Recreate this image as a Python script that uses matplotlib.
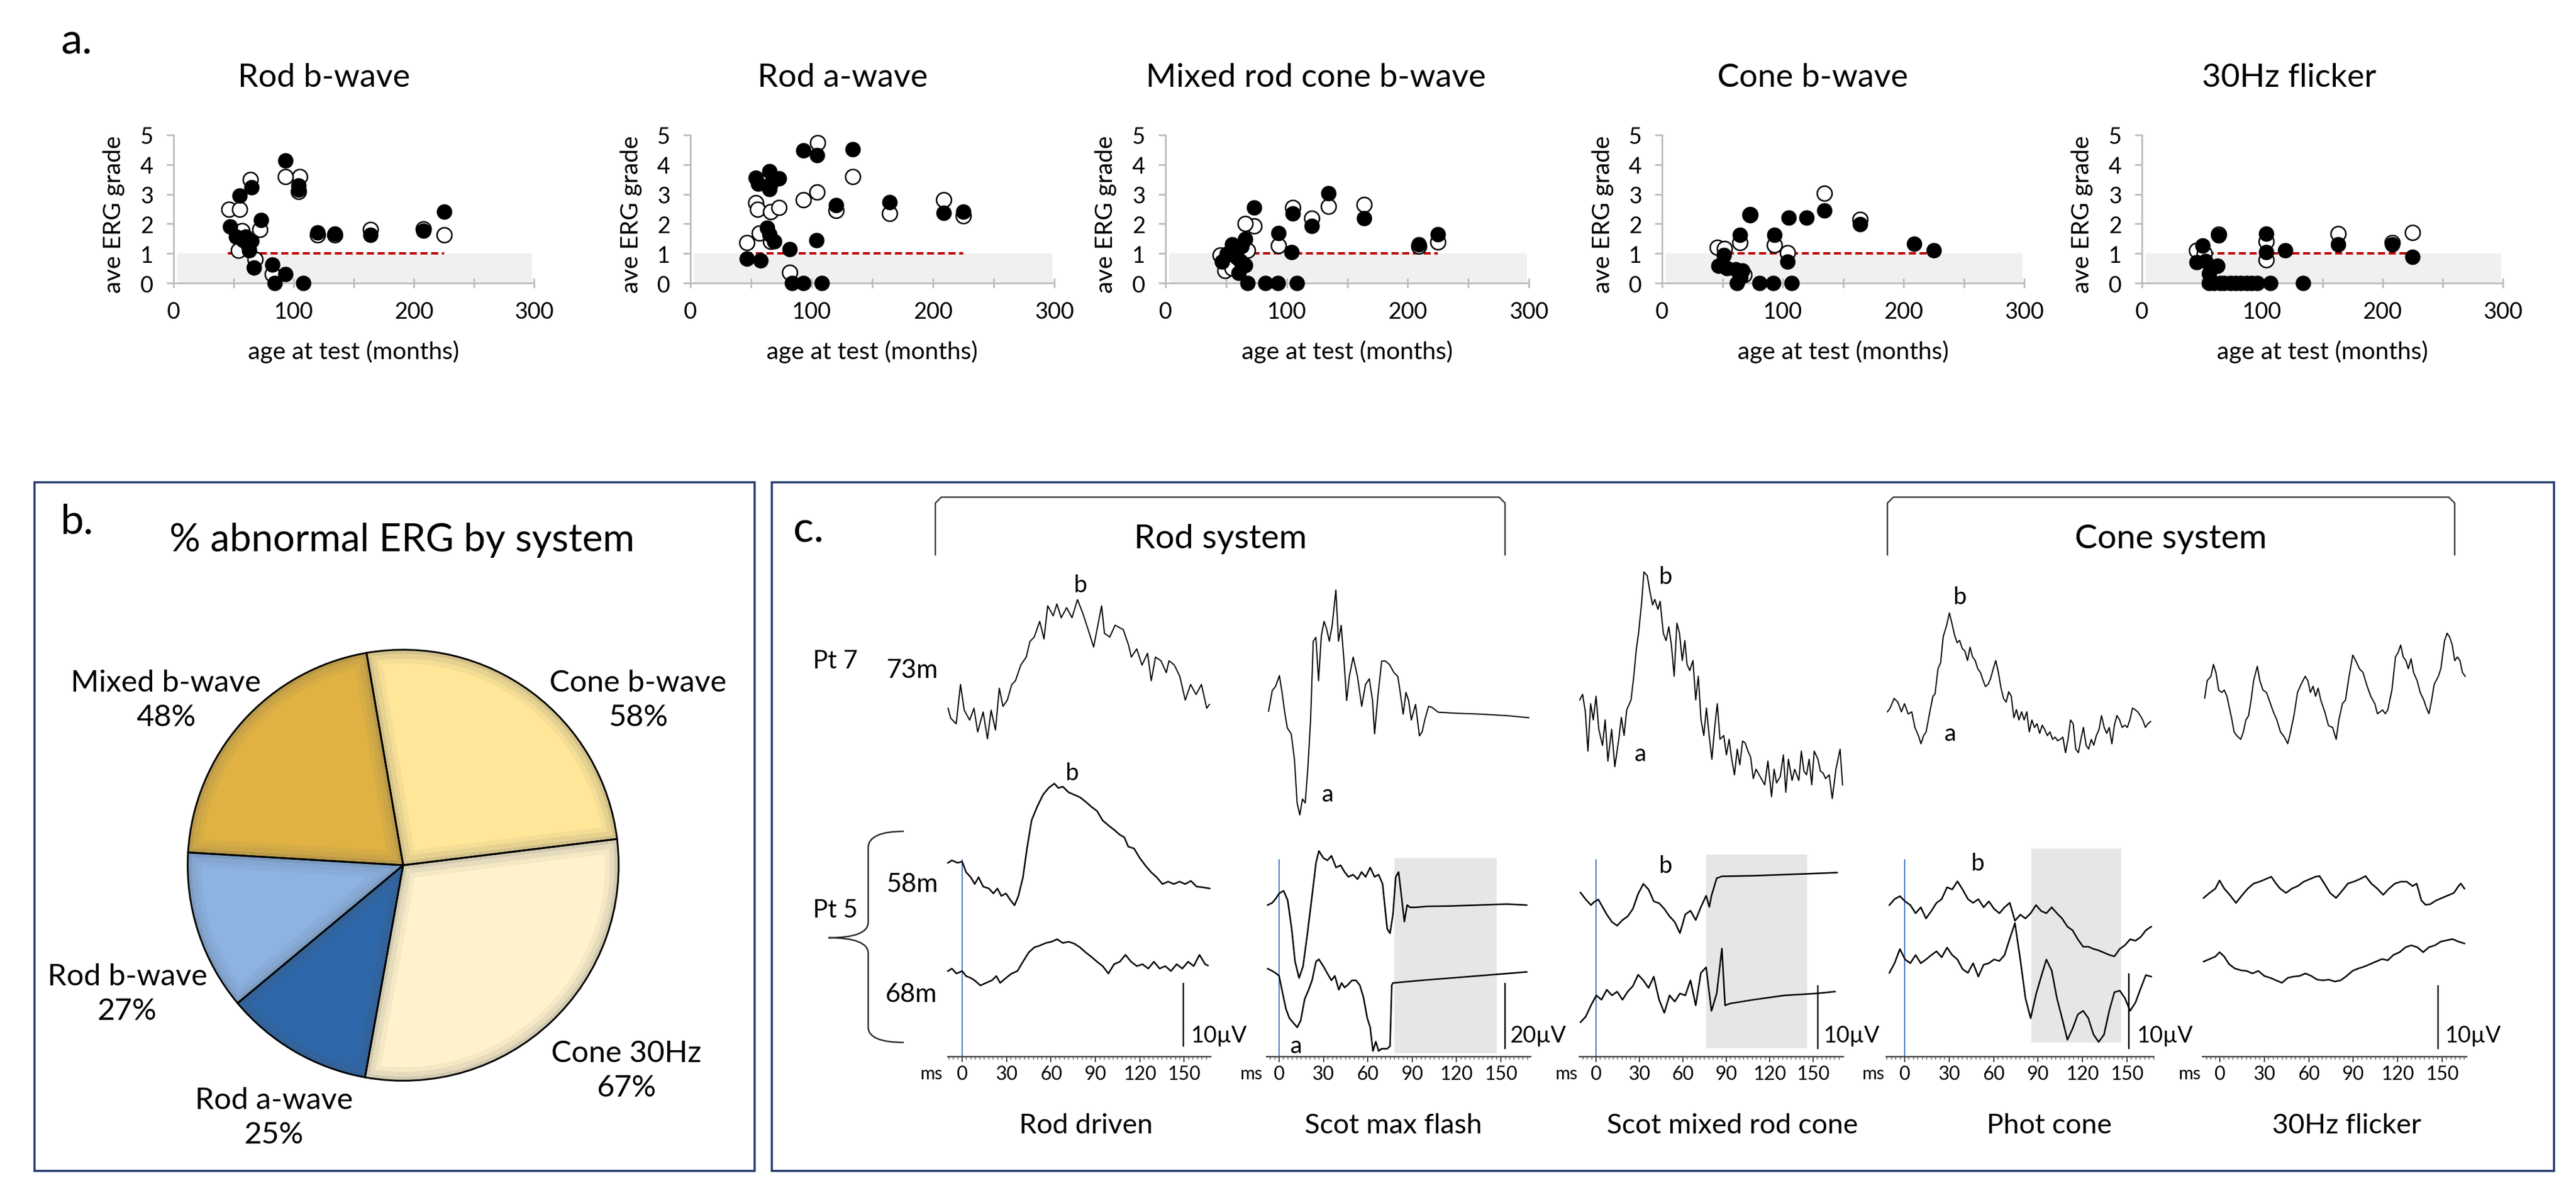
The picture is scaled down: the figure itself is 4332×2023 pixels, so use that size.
import numpy as np
import matplotlib
matplotlib.use('Agg')
import matplotlib.pyplot as plt
from matplotlib.patches import Rectangle, PathPatch, Wedge
from matplotlib.path import Path
from matplotlib.ticker import MultipleLocator

plt.rcParams['font.family'] = ['Lato', 'DejaVu Sans']

# ---------------- panel a: ave ERG grade vs age at test ----------------
SCATTER_TITLES = ['Rod b-wave', 'Rod a-wave', 'Mixed rod cone b-wave', 'Cone b-wave', '30Hz flicker']

ROD_B_FILLED = [(93, 4.13), (104, 3.3), (104, 3.16), (65, 3.23), (55, 2.95), (73, 2.12), (47, 1.9),
                (52, 1.56), (60, 1.56), (65, 1.42), (62, 1.28), (58, 1.45), (63, 1.1), (67, 0.52),
                (82, 0.62), (84, 0), (93, 0.31), (108, 0), (120, 1.7), (134, 1.67), (164, 1.63),
                (208, 1.77), (225, 2.4)]
ROD_B_OPEN = [(105, 3.6), (93, 3.6), (64, 3.5), (46, 2.5), (55, 2.5), (72, 1.8), (57, 1.77), (54, 1.1),
              (68, 0.8), (82, 0.3), (120, 1.63), (134, 1.63), (164, 1.8), (208, 1.82), (225, 1.63),
              (104, 3.1)]

ROD_A_FILLED = [(93, 4.48), (104.5, 4.32), (134, 4.51), (54, 3.56), (56, 3.35), (65, 3.78), (66, 3.35),
                (73, 3.53), (65, 3.17), (120, 2.64), (164, 2.73), (209, 2.37), (225, 2.41), (63, 1.87),
                (65, 1.65), (69, 1.4), (104, 1.44), (82, 1.15), (46.5, 0.83), (58, 0.76), (84, 0),
                (93, 0), (108.5, 0)]
ROD_A_OPEN = [(105, 4.73), (134, 3.6), (104.5, 3.07), (93, 2.81), (54, 2.71), (55.5, 2.48), (66, 2.41),
              (73, 2.55), (120, 2.45), (164, 2.34), (209, 2.82), (225, 2.27), (57, 1.69), (66, 1.4),
              (46.5, 1.37), (82, 0.36)]

MIXED_FILLED = [(134.6, 3.04), (164, 2.19), (73, 2.56), (105, 2.34), (120.6, 1.93), (93.5, 1.68),
                (104, 1.05), (209, 1.31), (225, 1.64), (65.6, 1.49), (63, 1.24), (55, 1.31), (50.7, 0.98),
                (46.5, 0.72), (59, 0.87), (66, 0.61), (60.5, 0.35), (56, 1.0), (62, 0.75), (67.6, 0),
                (82.5, 0), (93, 0), (108.5, 0)]
MIXED_OPEN = [(134.6, 2.6), (164, 2.65), (73, 1.93), (65.6, 2.0), (105, 2.56), (120.6, 2.19), (93.5, 1.27),
              (209, 1.24), (225, 1.38), (49, 0.43), (55, 0.5), (45, 0.94), (68, 1.1)]

CONE_B_FILLED = [(134.6, 2.44), (73, 2.29), (105, 2.21), (119.5, 2.21), (164, 1.99), (64.6, 1.62),
                 (93, 1.62), (209, 1.32), (225, 1.1), (104, 0.73), (51, 0.95), (46.7, 0.58), (53.8, 0.5),
                 (61, 0.47), (66.6, 0.43), (65, 0.2), (62.3, 0), (80.7, 0), (92, 0), (107.6, 0)]
CONE_B_OPEN = [(134.6, 3.03), (164, 2.14), (64.6, 1.36), (93, 1.29), (46, 1.21), (51.6, 1.17), (104, 1.03),
               (68, 0.28), (73, 2.3)]

FLICKER_FILLED = [(225, 0.89), (208, 1.3), (163, 1.3), (119, 1.11), (103.5, 1.67), (103.5, 1.04), (64, 1.6),
                  (50.6, 1.26), (45.6, 0.7), (53, 0.74), (63, 0.59), (56, 0.33), (56, 0), (60, 0), (65, 0),
                  (68, 0), (73.5, 0), (78, 0), (82, 0), (87, 0), (91, 0), (96, 0), (107, 0), (134, 0)]
FLICKER_OPEN = [(225, 1.7), (208, 1.37), (163, 1.67), (103.5, 1.41), (103.5, 0.78), (45.6, 1.11), (64, 1.65),
                (52, 1.0)]

AGE_TICKS = [0, 100, 200, 300]
AGE_MINOR = [50, 150, 250]
GRADE_TICKS = [0, 1, 2, 3, 4, 5]
NORMAL_LIMIT = 1
LIMIT_AGES = [45, 225]

# ---------------- panel b: % abnormal ERG by system ----------------
PIE_LABELS = ['Cone b-wave', 'Mixed b-wave', 'Rod b-wave', 'Rod a-wave', 'Cone 30Hz']
PIE_PCT = [58, 48, 27, 25, 67]
PIE_COLORS = ['#FFE699', '#DFB243', '#8DB3E2', '#2E68AA', '#FFF2CC']

# ---------------- panel c: ERG traces, (ms, microvolt) ----------------
ROD_DRIVEN_73 = [(-9.5, 0), (-7.7, -1.6), (-4.0, -2.5), (-1.1, 3.8), (1.4, -0.3), (5.1, -1.9), (8.0, 0),
                 (10.5, -3.8), (14.2, -0.6), (17.1, -4.9), (19.6, -0.3), (22.5, -3.5), (25.1, 3.2),
                 (27.6, 0.3), (30.5, 1.3), (33.5, 3.8), (36.0, 4.4), (39.6, 6.9), (43.3, 8.2), (45.8, 10.7),
                 (48.7, 11.4), (52.4, 13.9), (55.3, 11.1), (57.8, 16.4), (61.5, 14.8), (64.0, 16.7),
                 (66.9, 14.5), (70.6, 16.1), (74.2, 14.5), (77.9, 17.4), (81.5, 15.2), (85.1, 12.6),
                 (88.8, 9.8), (94.2, 16.4), (96.1, 12.0), (99.7, 11.4), (103.3, 13.3), (108.8, 12.6),
                 (112.4, 10.1), (114.3, 8.2), (117.9, 9.5), (121.5, 6.9), (125.2, 8.8), (127.7, 4.4),
                 (130.6, 8.2), (134.3, 7.6), (137.9, 5.7), (139.7, 7.6), (143.4, 6.9), (147.0, 5.1),
                 (150.7, 1.3), (154.3, 3.8), (158.0, 2.2), (161.6, 3.8), (165.2, 0), (167.0, 0.6)]
ROD_DRIVEN_58 = [(-9.6, 0), (-6.9, 0.4), (-3.1, 0), (0, 0.2), (2.7, -1.5), (5.8, -2.3), (8.5, -3.4),
                 (11.1, -2.3), (14.2, -3.8), (18.1, -4.1), (21.1, -4.9), (23.8, -4.1), (26.5, -5.3),
                 (29.6, -4.9), (32.7, -6.0), (35.4, -6.8), (38.0, -5.3), (41.1, -2.3), (43.8, 2.3),
                 (46.9, 6.8), (50.7, 9.0), (54.6, 10.9), (58.4, 12.0), (62.3, 12.7), (64.9, 12.0),
                 (68.0, 12.2), (71.9, 11.3), (75.7, 10.9), (79.6, 10.5), (83.4, 9.8), (87.2, 9.0),
                 (91.1, 8.3), (94.9, 6.8), (98.8, 6.0), (102.6, 5.3), (106.5, 4.5), (109.5, 4.1),
                 (112.2, 2.6), (116.1, 2.3), (119.9, 0.8), (123.7, -0.4), (127.6, -1.5), (131.4, -2.3),
                 (135.3, -3.4), (139.1, -3.0), (143.0, -3.4), (146.8, -3.0), (150.6, -3.4), (154.5, -2.9),
                 (158.3, -3.8), (162.2, -3.9), (167.2, -4.1)]
ROD_DRIVEN_68 = [(-9.6, 0), (-6.9, 0.4), (-3.8, -0.4), (0, 0), (2.7, -0.8), (5.8, -1.1), (8.5, -1.5),
                 (12.3, -2.3), (16.1, -1.9), (20.0, -1.5), (23.1, -0.8), (25.7, -1.9), (29.6, -1.1),
                 (33.4, -0.4), (37.3, 0), (41.1, 1.5), (45.0, 3.0), (48.8, 3.8), (52.6, 4.1), (56.5, 4.5),
                 (60.3, 4.7), (64.2, 5.1), (68.0, 4.5), (71.9, 4.7), (75.7, 4.4), (79.6, 3.8), (83.4, 3.0),
                 (87.2, 2.3), (91.1, 1.5), (94.9, 0.8), (98.8, -0.4), (102.6, 1.1), (106.5, 1.5),
                 (110.3, 2.6), (114.1, 1.5), (118.0, 0.8), (121.8, 1.1), (125.7, 0.4), (129.5, 1.5),
                 (133.4, 0.4), (137.2, 0.8), (141.0, 0), (144.9, 1.1), (148.7, 0.4), (152.6, 1.5),
                 (156.4, 0.8), (160.3, 2.6), (164.1, 1.1), (166.0, 0.9)]

SCOT_MAX_73 = [(-7.1, 0), (-4.6, 6.4), (-2.4, 7.6), (0.2, 11.0), (2.0, 5.8), (3.8, -0.3), (5.6, -5.2),
               (8.2, -7.0), (10.4, -14.9), (12.2, -28.3), (14.0, -32.0), (15.8, -27.1), (17.7, -28.3),
               (19.5, -17.3), (21.3, -2.7), (23.1, 21.6), (24.9, 22.8), (26.7, 9.4), (28.6, 23.4),
               (30.4, 27.7), (32.2, 25.3), (34.0, 21.6), (35.9, 26.5), (38.4, 37.4), (40.2, 21.6),
               (42.0, 26.5), (43.9, 15.5), (45.7, 3.3), (47.5, 10.7), (50.1, 16.7), (53.0, 10.7),
               (55.9, 1.5), (58.4, 8.2), (61.0, 10.0), (63.2, 3.3), (64.6, -7.0), (66.8, 4.6), (69.4, 15.5),
               (71.9, 15.5), (74.8, 14.3), (77.7, 11.9), (80.3, 10.7), (82.1, 5.2), (83.9, -0.9),
               (85.8, 5.8), (87.6, 3.3), (89.4, -2.7), (92.3, 2.1), (94.9, -7.6), (96.7, -6.4),
               (98.5, -2.7), (101.1, 1.5), (103.3, 1.2), (107.6, -0.3), (118.5, -0.6), (136.8, -0.9),
               (155.0, -1.4), (168.8, -2.0)]
SCOT_MAX_58 = [(-7.7, 0), (-4.6, 0.7), (-1.9, 2.2), (0, 3.6), (3.1, 4.4), (5.8, 1.5), (8.5, -7.3),
               (10.8, -17.4), (13.5, -22.5), (16.2, -18.9), (19.2, -8.7), (22.3, 2.9), (25.0, 13.1),
               (26.9, 16.7), (30.0, 14.5), (32.7, 13.8), (35.4, 15.2), (38.5, 11.6), (41.6, 12.3),
               (44.3, 10.2), (46.9, 8.7), (50.0, 9.4), (53.1, 8.0), (55.8, 10.2), (58.5, 8.7), (61.6, 11.6),
               (64.6, 8.7), (67.3, 9.4), (70.0, 6.5), (73.1, -7.3), (75.0, -8.7), (77.0, -2.9), (78.9, 8.7),
               (80.8, 10.2), (82.7, 2.9), (84.7, -5.1), (86.6, 0), (88.5, -0.7), (92.4, -0.7),
               (100.0, -0.4), (115.4, -0.3), (134.7, 0), (153.9, 0.3), (167.4, 0)]
SCOT_MAX_68 = [(-7.7, 0), (-4.6, -0.7), (-1.9, -1.5), (0, -2.2), (1.9, -6.5), (4.6, -12.3), (6.9, -15.2),
               (9.6, -16.7), (12.3, -18.1), (14.6, -16.0), (17.3, -9.4), (20.0, -6.5), (22.3, -3.6),
               (25.0, 2.2), (26.9, 2.9), (30.0, 0.7), (32.7, -1.5), (35.4, -3.6), (37.7, -2.2), (40.4, -6.5),
               (42.3, -4.4), (44.3, -5.8), (46.2, -5.1), (49.3, -3.6), (52.0, -3.6), (54.6, -5.1),
               (57.0, -8.7), (59.6, -15.2), (61.6, -18.1), (63.5, -25.4), (65.4, -22.5), (67.3, -25.4),
               (69.3, -24.7), (73.1, -24.7), (75.0, -23.9), (76.2, -5.1), (77.0, -4.4), (96.2, -3.6),
               (115.4, -2.9), (134.7, -2.2), (153.9, -1.5), (167.4, -1.0)]

SCOT_MIXED_73 = [(-11.2, 0), (-9.3, 0.9), (-7.4, -1.9), (-5.6, -8.2), (-3.7, -0.6), (-1.9, -3.2), (0.0, 0.6),
                 (1.9, -4.7), (4.5, -7.3), (6.3, -3.2), (8.2, -9.8), (10.8, -4.7), (13.0, -10.7),
                 (15.7, -6.3), (17.5, -2.8), (19.4, -5.7), (21.2, -1.6), (24.2, 0), (26.1, 3.8), (27.9, 8.2),
                 (29.4, 10.7), (31.6, 15.8), (33.1, 20.5), (35.4, 19.9), (37.2, 17.4), (39.1, 15.2),
                 (40.6, 16.1), (42.8, 14.5), (44.3, 15.8), (46.5, 10.7), (48.4, 9.5), (50.3, 11.7),
                 (52.1, 8.8), (54.0, 3.8), (55.9, 12.3), (57.7, 10.7), (59.6, 6.3), (61.4, 9.5), (62.9, 5.7),
                 (64.8, 4.7), (67.0, 6.3), (68.9, 0), (70.7, 3.8), (72.6, -3.2), (74.5, -5.7), (76.3, -1.3),
                 (78.2, -5.7), (80.1, -9.5), (81.9, -4.7), (83.8, -0.6), (85.7, -6.3), (88.3, -5.7),
                 (90.1, -8.8), (92.0, -6.3), (93.8, -9.5), (95.7, -12.0), (97.6, -7.9), (99.4, -10.4),
                 (101.3, -6.6), (103.1, -6.9), (105.0, -8.2), (106.9, -9.2), (108.7, -12.6), (110.6, -11.1),
                 (116.6, -13.6), (118.8, -9.8), (121.3, -15.5), (123.1, -11.1), (124.8, -13.3),
                 (127.3, -12.3), (129.5, -8.8), (131.2, -14.8), (133.0, -9.5), (135.5, -12.9),
                 (137.3, -11.1), (140.2, -12.9), (141.9, -8.2), (143.7, -11.4), (145.5, -12.0),
                 (147.3, -9.5), (149.1, -13.6), (150.8, -8.2), (153.4, -9.5), (155.1, -11.4), (156.9, -11.7),
                 (158.7, -12.6), (161.2, -12.0), (163.3, -15.8), (165.8, -11.1), (168.7, -7.9),
                 (170.4, -13.6)]
SCOT_MIXED_58 = [(-10.7, 0), (-7.1, -1.1), (-3.5, -2.0), (-1.3, -1.5), (1.6, -1.1), (4.5, -2.3), (7.4, -3.5),
                 (11.0, -4.7), (14.6, -5.3), (18.3, -4.4), (21.9, -3.8), (25.5, -2.6), (29.1, -0.2),
                 (32.7, 1.4), (36.3, 0.5), (39.9, -1.4), (43.6, -1.7), (47.2, -2.6), (50.8, -3.8),
                 (54.4, -4.7), (58.0, -6.5), (61.7, -3.5), (65.3, -2.9), (68.9, -4.4), (72.5, -2.3),
                 (76.1, -0.5), (78.3, -2.3), (79.8, -0.5), (83.4, 2.3), (87.0, 2.6), (108.7, 2.7),
                 (144.9, 3.0), (166.6, 3.2)]
SCOT_MIXED_68 = [(-10.7, 0), (-7.1, 0.9), (-3.5, 2.7), (0.2, 4.3), (3.8, 3.6), (7.4, 5.2), (11.0, 4.3),
                 (14.6, 4.9), (18.3, 3.6), (21.9, 4.9), (25.5, 5.8), (29.1, 7.6), (32.7, 6.7), (36.3, 5.5),
                 (39.9, 7.3), (43.6, 3.6), (47.2, 1.5), (50.8, 4.3), (54.4, 3.3), (58.0, 4.6), (61.7, 4.3),
                 (65.3, 6.7), (68.9, 2.7), (72.5, 7.9), (76.1, 8.8), (79.8, 1.8), (83.4, 4.6), (87.0, 11.8),
                 (89.2, 2.7), (92.8, 3.0), (108.7, 3.6), (130.4, 4.3), (152.1, 4.6), (165.1, 4.9)]

PHOT_CONE_73 = [(-11.6, 0), (-9.8, 0.5), (-7.1, 1.8), (-4.6, 1.3), (-2.2, 0), (-0.1, 1.1), (2.4, -0.3),
                (4.8, 0), (6.9, -2.1), (9.3, -3.2), (11.0, -4.3), (12.8, -3.2), (14.5, -2.7), (17.0, 0),
                (19.1, 2.1), (20.5, 2.4), (22.5, 5.8), (24.3, 6.6), (26.0, 10.1), (28.4, 11.7), (30.2, 13.3),
                (31.9, 11.9), (33.7, 10.3), (35.4, 9.3), (37.1, 9.6), (38.9, 8.5), (40.6, 8.2), (42.4, 6.9),
                (44.1, 8.7), (45.8, 7.4), (47.6, 6.9), (49.3, 5.8), (51.1, 5.3), (52.8, 4.3), (54.5, 3.4),
                (56.3, 3.7), (58.0, 4.5), (59.8, 5.8), (61.5, 6.9), (63.2, 5.3), (65.0, 3.2), (66.7, 1.8),
                (68.5, 1.3), (70.2, 2.7), (71.9, 2.1), (73.7, -0.8), (75.4, 0.3), (77.1, -1.1), (78.9, 0),
                (80.6, -1.1), (82.4, 0), (84.1, -2.7), (85.8, -1.1), (87.6, -2.1), (89.3, -1.6),
                (91.1, -2.9), (92.8, -1.8), (94.5, -2.4), (96.3, -3.2), (98.0, -2.7), (99.8, -3.7),
                (101.5, -3.4), (103.2, -3.9), (105.0, -3.7), (106.7, -3.4), (108.5, -5.5), (110.2, -3.7),
                (111.9, -1.1), (113.7, -1.6), (115.4, -5.0), (117.2, -5.5), (118.9, -3.7), (120.6, -2.1),
                (122.4, -4.5), (124.1, -5.0), (125.9, -3.7), (127.6, -4.5), (129.3, -3.2), (131.1, -2.4),
                (132.8, -0.5), (134.6, -2.1), (136.3, -2.9), (138.0, -2.1), (139.8, -4.3), (141.5, -1.8),
                (143.2, -0.5), (145.0, -1.1), (146.7, -2.1), (148.5, -1.8), (150.2, -2.1), (151.9, -1.1),
                (153.7, 0.5), (155.4, 0.3), (157.2, 0), (158.9, -0.5), (160.6, -1.1), (162.4, -2.1),
                (164.1, -1.6), (165.9, -1.3)]
PHOT_CONE_58 = [(-10.3, 0), (-6.8, 0.8), (-3.2, 1.2), (0.3, 0.5), (3.8, 0), (7.4, -1.1), (10.9, -0.3),
                (14.4, -1.8), (18.0, -0.8), (21.5, 0.3), (25.0, 0.8), (28.6, 2.4), (32.1, 2.1), (35.6, 3.2),
                (39.1, 2.1), (42.7, 0.8), (46.2, 0.3), (49.7, 0.8), (53.3, -0.3), (56.8, 0.5), (60.3, -0.5),
                (63.9, -1.1), (67.4, -0.3), (70.9, 0.3), (74.4, -2.1), (78.0, -1.3), (81.5, -1.8),
                (85.0, -1.1), (88.6, 0), (92.1, -0.8), (95.6, -1.1), (99.2, -0.3), (102.7, -1.1),
                (106.2, -1.8), (109.8, -2.9), (113.3, -3.4), (116.8, -4.6), (120.4, -5.6), (123.9, -5.6),
                (127.4, -5.9), (130.9, -6.1), (134.5, -6.4), (138.0, -6.7), (141.5, -6.9), (145.1, -5.9),
                (148.6, -5.4), (152.1, -4.6), (155.7, -4.8), (159.2, -4.3), (162.7, -3.4), (166.3, -2.9)]
PHOT_CONE_68 = [(-10.3, 0), (-6.8, 1.3), (-3.2, 3.2), (0.3, 1.8), (3.8, 1.3), (7.4, 2.4), (10.9, 1.3),
                (14.4, 1.8), (18.0, 2.4), (21.5, 2.9), (25.0, 2.1), (28.6, 3.4), (32.1, 2.4), (35.6, 1.8),
                (39.1, 0.5), (42.7, 0), (46.2, 1.3), (49.7, -0.5), (53.3, 1.1), (56.8, 1.3), (60.3, 1.8),
                (63.9, 1.6), (67.4, 2.4), (70.9, 4.6), (74.4, 6.7), (78.0, 1.8), (81.5, -3.4), (85.0, -6.1),
                (88.6, -2.9), (92.1, -0.5), (95.6, 1.8), (99.2, 0.3), (102.7, -3.4), (106.2, -6.1),
                (109.8, -9.0), (113.3, -7.5), (116.8, -5.6), (120.4, -5.1), (123.9, -6.1), (127.4, -8.3),
                (130.9, -9.3), (134.5, -8.3), (138.0, -5.1), (141.5, -2.6), (145.1, -2.4), (148.6, -3.4),
                (152.1, -5.1), (155.7, -4.0), (159.2, -2.1), (162.7, -0.3), (166.3, -0.5)]

FLICKER_73 = [(-10.2, 0), (-8.5, 2.8), (-6.0, 3.5), (-4.3, 5.4), (-2.6, 4.1), (-0.8, 1.3), (1.3, 0.9),
              (3.0, 1.3), (4.8, 0.3), (6.5, -1.6), (8.2, -3.5), (9.6, -5.4), (11.4, -6.0), (14.1, -6.6),
              (15.9, -5.4), (17.6, -3.5), (19.4, -2.8), (21.1, -0.3), (22.8, 2.8), (25.3, 5.1), (27.0, 2.8),
              (29.1, 1.3), (31.5, 0.9), (33.3, -0.3), (36.1, -2.2), (38.5, -3.5), (40.9, -5.4), (43.7, -6.3),
              (45.8, -7.3), (47.2, -6.0), (50.0, -2.8), (52.4, 0.9), (54.8, 2.2), (57.6, 3.5), (59.4, 2.8),
              (61.1, 0.9), (62.9, 1.9), (64.6, 0.3), (66.3, 1.6), (68.1, -0.3), (70.8, -2.2), (73.3, -4.4),
              (76.1, -4.7), (78.5, -6.6), (80.3, -3.5), (82.7, -0.9), (84.8, -0.3), (87.2, 3.5),
              (89.7, 6.9), (91.7, 6.0), (94.2, 4.7), (96.6, 4.1), (99.4, 1.9), (101.8, 0.3), (104.6, -0.9),
              (106.3, -2.5), (108.1, -2.2), (109.8, -1.9), (111.6, -2.5), (113.3, -1.9), (116.1, 1.3),
              (118.5, 6.6), (120.3, 7.3), (122.0, 8.5), (123.7, 6.6), (125.5, 6.0), (127.2, 4.7),
              (129.0, 6.3), (130.7, 4.1), (133.1, 2.8), (135.2, 0.9), (137.6, -0.3), (139.4, -1.6),
              (141.1, -2.5), (142.9, -0.3), (144.6, 2.2), (147.4, 3.5), (149.1, 4.7), (151.6, 9.2),
              (153.3, 10.4), (155.0, 9.8), (156.8, 8.5), (158.5, 6.0), (160.3, 6.6), (162.0, 6.0),
              (163.7, 4.1), (165.5, 3.5)]
FLICKER_58 = [(-10.9, 0), (-6.9, 0.8), (-3.0, 1.5), (-0.2, 2.8), (3.0, 1.5), (7.0, 0.4), (10.9, -0.8),
              (14.9, 0.4), (18.9, 1.5), (22.8, 2.3), (26.8, 2.6), (30.8, 3.0), (34.7, 3.4), (37.9, 2.3),
              (40.7, 1.5), (44.7, 0.8), (48.6, 1.5), (52.6, 1.9), (56.6, 2.6), (60.6, 3.0), (64.5, 3.4),
              (67.3, 3.5), (70.5, 2.3), (74.4, 0.8), (78.4, 0), (82.4, 1.1), (86.4, 2.3), (90.3, 2.6),
              (94.3, 3.0), (98.3, 3.5), (102.2, 2.3), (106.2, 1.5), (110.2, 0.5), (114.2, 1.5),
              (118.1, 2.3), (122.1, 2.6), (126.1, 2.6), (130.0, 1.9), (132.8, 2.3), (136.0, -0.4),
              (138.8, -1.1), (142.0, -1.0), (145.9, -0.4), (149.9, 0), (153.9, 0.4), (157.9, 0.8),
              (161.0, 1.9), (162.6, 2.3), (165.0, 1.5)]
FLICKER_68 = [(-10.9, 0), (-6.9, 0.4), (-3.0, 0.8), (-0.2, 1.5), (3.0, 0.8), (6.2, -0.4), (10.1, -1.1),
              (14.1, -1.4), (18.1, -1.5), (22.0, -1.9), (26.0, -1.5), (30.0, -2.3), (34.0, -2.6),
              (37.9, -3.0), (41.9, -3.4), (45.9, -2.6), (49.8, -2.4), (53.8, -2.3), (57.8, -1.9),
              (61.7, -2.3), (65.7, -2.9), (69.7, -3.0), (73.6, -2.9), (77.6, -3.2), (81.6, -3.0),
              (85.6, -2.3), (89.5, -1.5), (93.5, -1.1), (97.5, -0.8), (101.4, -0.4), (105.4, 0),
              (109.4, 0.4), (113.3, 0.2), (117.3, 1.1), (121.3, 1.5), (125.3, 2.3), (129.2, 2.6),
              (133.2, 2.3), (137.2, 1.5), (141.1, 2.3), (145.1, 2.6), (149.1, 3.2), (153.0, 3.4),
              (157.0, 3.6), (161.0, 3.2), (165.0, 2.9)]

TIME_TICKS = [0, 30, 60, 90, 120, 150]

# ---------------- layout (pixels of the 4332 x 2024 canvas) ----------------
W, H, DPI = 4332, 2024, 100
PT = 72.0 / DPI


def fs(px):
    return px * PT


def px_box(x0, y0, x1, y1):
    return [x0 / W, 1 - y1 / H, (x1 - x0) / W, (y1 - y0) / H]


fig = plt.figure(figsize=(W / DPI, H / DPI), dpi=DPI)
fig.patch.set_facecolor('white')
canvas = fig.add_axes([0, 0, 1, 1])
canvas.set_xlim(0, W)
canvas.set_ylim(H, 0)
canvas.axis('off')


def label(x, y, s, size, **kw):
    kw.setdefault('ha', 'center')
    kw.setdefault('va', 'center')
    canvas.text(x, y, s, fontsize=fs(size), color='black', **kw)


# ---- panel a ----
label(129, 70, 'a.', 72)
SCATTER_X = [(292, 898), (1161, 1773), (1960, 2571), (2795, 3404), (3602, 4209)]
SCATTER_TOP, SCATTER_BOT = 228, 477
TITLE_X = [545, 1417, 2213, 3048, 3850]
AXIS_GREY = '#bfbfbf'
marker_area = (25 * PT) ** 2
scatter_sets = [(ROD_B_FILLED, ROD_B_OPEN), (ROD_A_FILLED, ROD_A_OPEN), (MIXED_FILLED, MIXED_OPEN),
                (CONE_B_FILLED, CONE_B_OPEN), (FLICKER_FILLED, FLICKER_OPEN)]

for i, (title, (filled, hollow)) in enumerate(zip(SCATTER_TITLES, scatter_sets)):
    xa, xb = SCATTER_X[i]
    ax = fig.add_axes(px_box(xa, SCATTER_TOP, xb, SCATTER_BOT))
    ax.set_facecolor('none')
    ax.set_xlim(0, 300)
    ax.set_ylim(0, 5)
    ax.axhspan(0, NORMAL_LIMIT, xmin=0.01, xmax=0.995, color='#f0f0f0', lw=0, zorder=0)
    ax.plot(LIMIT_AGES, [NORMAL_LIMIT] * 2, color='#c00000', lw=4 * PT, ls=(0, (3, 1.5)), zorder=2)
    oa, og = zip(*hollow)
    fa, fg = zip(*filled)
    ax.scatter(oa, og, s=marker_area, facecolor='white', edgecolor='black', linewidth=2.6 * PT,
               zorder=3, clip_on=False)
    ax.scatter(fa, fg, s=marker_area, facecolor='black', edgecolor='black', linewidth=1 * PT,
               zorder=4, clip_on=False)
    for side in ('top', 'right'):
        ax.spines[side].set_visible(False)
    for side in ('left', 'bottom'):
        ax.spines[side].set_color(AXIS_GREY)
        ax.spines[side].set_linewidth(3 * PT)
    ax.set_xticks(AGE_TICKS)
    ax.set_xticks(AGE_MINOR, minor=True)
    ax.set_yticks(GRADE_TICKS)
    ax.tick_params(axis='x', which='both', direction='inout', length=16 * PT, width=3 * PT,
                   color=AXIS_GREY, labelsize=fs(38), pad=22 * PT)
    ax.tick_params(axis='y', direction='out', length=12 * PT, width=3 * PT, color=AXIS_GREY,
                   labelsize=fs(38), pad=22 * PT)
    label(TITLE_X[i], 130, title, 55)
    label(xa - 100, (SCATTER_TOP + SCATTER_BOT) / 2 + 8, 'ave ERG grade', 41, rotation=90)
    label((xa + xb) / 2, 592, 'age at test (months)', 41)

# ---- panel b ----
NAVY = '#22386a'
canvas.add_patch(Rectangle((58, 812), 1211, 1158, fill=False, ec=NAVY, lw=3.5 * PT))
label(129, 878, 'b.', 70)
label(676, 908, '% abnormal ERG by system', 65)

PIE_CX, PIE_CY, PIE_R = 678, 1456, 366
pax = fig.add_axes(px_box(PIE_CX - PIE_R, PIE_CY - PIE_R, PIE_CX + PIE_R, PIE_CY + PIE_R))
wedges, _ = pax.pie(PIE_PCT, colors=PIE_COLORS, startangle=7, counterclock=True,
                    wedgeprops=dict(edgecolor='none'))
for w in wedges:
    for lw, a in ((46, 0.06), (30, 0.08), (14, 0.12)):
        glow = Wedge(w.center, w.r, w.theta1, w.theta2, facecolor='none', edgecolor='#4a5560',
                     lw=lw * PT, alpha=a)
        pax.add_patch(glow)
        glow.set_clip_path(w)
    pax.add_patch(Wedge(w.center, w.r, w.theta1, w.theta2, facecolor='none', edgecolor='black',
                        lw=3 * PT))
pax.set_xlim(-1.01, 1.01)
pax.set_ylim(-1.01, 1.01)
pax.set_aspect('equal')
pax.axis('off')

PIE_LABEL_POS = [(1073, 1178), (279, 1178), (214, 1672), (461, 1880), (1053, 1801)]
for (x, y), name, pct in zip(PIE_LABEL_POS, PIE_LABELS, PIE_PCT):
    label(x, y, f'{name}\n{pct}%', 51, linespacing=1.3)

# ---- panel c ----
canvas.add_patch(Rectangle((1298, 812), 2997, 1158, fill=False, ec=NAVY, lw=3.5 * PT))
label(1360, 891, 'c.', 72)

for (xl, xr), text in (((1573, 2531), 'Rod system'), ((3174, 4128), 'Cone system')):
    canvas.plot([xl, xl, xl + 10, xr - 10, xr, xr], [934, 847, 837, 837, 847, 934],
                color='#3a3a3a', lw=2.5 * PT, solid_joinstyle='round')
    label((xl + xr) / 2, 906, text, 57)

label(1405, 1112, 'Pt 7', 42)
label(1534, 1128, '73m', 44)
label(1534, 1487, '58m', 44)
label(1405, 1531, 'Pt 5', 42)
label(1532, 1673, '68m', 44)

brace = Path([(1520, 1399), (1460, 1399), (1460, 1427), (1460, 1552), (1460, 1578), (1393, 1578),
              (1460, 1578), (1460, 1604), (1460, 1728), (1460, 1754), (1520, 1754)],
             [Path.MOVETO, Path.CURVE3, Path.CURVE3, Path.LINETO, Path.CURVE3, Path.CURVE3,
              Path.CURVE3, Path.CURVE3, Path.LINETO, Path.CURVE3, Path.CURVE3])
canvas.add_patch(PathPatch(brace, fill=False, ec='#2a2a2a', lw=2.5 * PT))

AXIS_Y, TRACE_TOP = 1778, 900
COLUMNS = [
    dict(name='Rod driven', x0=1618, ppm=2.49, span=(1594, 2036), s=10.5, bar_t=149.4, bar_uv=10,
         bar_bot=1760, bar_text_x=2003, ms_x=1567, label_x=1826, blue=True, shade=None,
         traces=[(ROD_DRIVEN_73, 1192, 2.0), (ROD_DRIVEN_58, 1452, 2.6), (ROD_DRIVEN_68, 1634, 2.6)]),
    dict(name='Scot max flash', x0=2151, ppm=2.487, span=(2130, 2574), s=5.45, bar_t=152.8, bar_uv=20,
         bar_bot=1764, bar_text_x=2539, ms_x=2105, label_x=2343, blue=True, shade=(78, 147.2, 1444, 1772),
         traces=[(SCOT_MAX_73, 1197, 2.0), (SCOT_MAX_58, 1523, 2.6), (SCOT_MAX_68, 1630, 2.6)]),
    dict(name='Scot mixed rod cone', x0=2684, ppm=2.433, span=(2656, 3100), s=10.5, bar_t=153.3,
         bar_uv=10, bar_bot=1764, bar_text_x=3067, ms_x=2635, label_x=2913, blue=True,
         shade=(76, 145.9, 1438, 1764),
         traces=[(SCOT_MIXED_73, 1178, 2.0), (SCOT_MIXED_58, 1502, 2.6), (SCOT_MIXED_68, 1720, 2.6)]),
    dict(name='Phot cone', x0=3203, ppm=2.493, span=(3172, 3622), s=12.5, bar_t=151.2, bar_uv=10,
         bar_bot=1764, bar_text_x=3594, ms_x=3151, label_x=3446, blue=True, shade=(85.4, 146, 1428, 1754),
         traces=[(PHOT_CONE_73, 1198, 2.0), (PHOT_CONE_58, 1523, 2.6), (PHOT_CONE_68, 1637, 2.6)]),
    dict(name='30Hz flicker', x0=3733, ppm=2.493, span=(3704, 4148), s=10.5, bar_t=147.2, bar_uv=10,
         bar_bot=1764, bar_text_x=4112, ms_x=3683, label_x=3946, blue=False, shade=None,
         traces=[(FLICKER_73, 1175, 2.0), (FLICKER_58, 1511, 2.6), (FLICKER_68, 1618, 2.6)]),
]

for col in COLUMNS:
    xa, xb = col['span']
    s = col['s']
    ax = fig.add_axes(px_box(xa, TRACE_TOP, xb, AXIS_Y))
    ax.set_facecolor('none')
    ax.set_xlim((xa - col['x0']) / col['ppm'], (xb - col['x0']) / col['ppm'])
    ax.set_ylim(0, (AXIS_Y - TRACE_TOP) / s)
    for side in ('left', 'right', 'top'):
        ax.spines[side].set_visible(False)
    ax.spines['bottom'].set_color('#444444')
    ax.spines['bottom'].set_linewidth(2.5 * PT)
    ax.set_yticks([])
    ax.set_xticks(TIME_TICKS)
    ax.xaxis.set_minor_locator(MultipleLocator(3))
    ax.tick_params(axis='x', which='major', length=9 * PT, width=2 * PT, color='#444444',
                   labelsize=fs(32), pad=5 * PT)
    ax.tick_params(axis='x', which='minor', length=5 * PT, width=1.5 * PT, color='#666666')
    if col['shade']:
        t0, t1, ytop, ybot = col['shade']
        ax.add_patch(Rectangle((t0, (AXIS_Y - ybot) / s), t1 - t0, (ybot - ytop) / s,
                               facecolor='#e6e6e6', lw=0, zorder=0))
    if col['blue']:
        ax.plot([0, 0], [(AXIS_Y - 1776) / s, (AXIS_Y - 1447) / s], color='#4a7cc9', lw=2 * PT, zorder=1)
    for trace, base, lw in col['traces']:
        t, v = zip(*trace)
        ax.plot(t, np.array(v) + (AXIS_Y - base) / s, color='black', lw=lw * PT, clip_on=False, zorder=3)
    y0 = (AXIS_Y - col['bar_bot']) / s
    ax.plot([col['bar_t']] * 2, [y0, y0 + col['bar_uv']], color='black', lw=2.5 * PT)
    label(col['bar_text_x'], 1742, f"{col['bar_uv']}µV", 38, ha='left')
    label(col['ms_x'], 1806, 'ms', 30)
    label(col['label_x'], 1893, col['name'], 47)

TRACE_MARKS = [(1816, 984, 'b'), (1802, 1300, 'b'), (2233, 1337, 'a'), (2180, 1760, 'a'),
               (2759, 1268, 'a'), (2800, 970, 'b'), (2800, 1456, 'b'), (3295, 1005, 'b'),
               (3280, 1235, 'a'), (3325, 1452, 'b')]
for x, y, s in TRACE_MARKS:
    label(x, y, s, 40)

fig.savefig('out.png', dpi=DPI, facecolor='white')
